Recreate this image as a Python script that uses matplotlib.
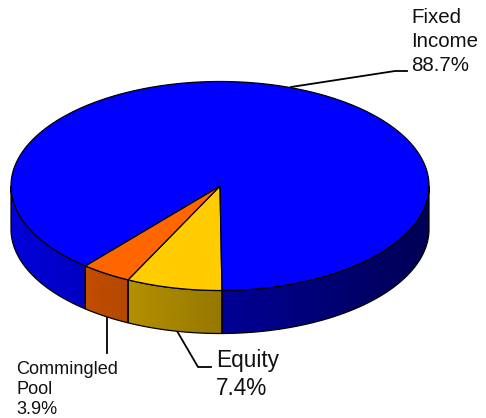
import numpy as np
import matplotlib
matplotlib.use('Agg')
import matplotlib.pyplot as plt
from matplotlib.patches import Polygon

plt.rcParams['font.family'] = ['Liberation Sans', 'DejaVu Sans']

names = ['Equity', 'Commingled\nPool', 'Fixed\nIncome']
shares = [7.4, 3.9, 88.7]
colors = [(1.0, 0.8, 0.0), (1.0, 0.4, 0.0), (0.0, 0.0, 1.0)]

# pie geometry in pixels
cx, cy = 220, 186
rx, ry = 209, 104.5
depth = 43
start = np.radians(-0.55)

fig = plt.figure(figsize=(4.86, 4.18), dpi=100)
ax = fig.add_axes([0, 0, 1, 1])


def rim(t):
    # angle runs clockwise on screen from straight down
    return cx - rx * np.sin(t), cy + ry * np.cos(t)


edges = start + np.cumsum([0] + shares) / sum(shares) * 2 * np.pi
grad = np.linspace(0.85, 0.33, 400)

# side wall, only the front half can be seen
for i in range(len(shares)):
    parts = [(edges[i], min(edges[i + 1], np.pi / 2)),
             (max(edges[i], 3 * np.pi / 2), edges[i + 1])]
    for lo, hi in parts:
        if hi <= lo:
            continue
        xs, ys = rim(np.linspace(lo, hi, 300))
        wall = Polygon(np.column_stack([np.r_[xs, xs[::-1]], np.r_[ys, ys[::-1] + depth]]),
                       closed=True, facecolor='none', edgecolor='none')
        ax.add_patch(wall)
        img = np.outer(grad, colors[i]).reshape(1, -1, 3)
        im = ax.imshow(img, extent=(cx - rx, cx + rx, 418, 0), aspect='auto',
                       interpolation='bilinear', zorder=1)
        im.set_clip_path(wall)
        ax.add_patch(Polygon(wall.get_xy(), closed=True, facecolor='none',
                             edgecolor='black', lw=0.9, zorder=2))

# top face
for i in range(len(shares)):
    xs, ys = rim(np.linspace(edges[i], edges[i + 1], 300))
    pts = np.column_stack([np.r_[cx, xs], np.r_[cy, ys]])
    ax.add_patch(Polygon(pts, closed=True, facecolor=colors[i], edgecolor='black', lw=0.9, zorder=3))

# leader lines
ax.plot([291, 395, 407], [87, 71, 71], color='black', lw=1.3, zorder=4)
ax.plot([107, 107], [318, 353], color='black', lw=1.3, zorder=0)
ax.plot([177, 198, 211], [331, 367, 367], color='black', lw=1.3, zorder=0)

ax.text(411, 71, f'{names[2]}\n{shares[2]}%', fontsize=14.8, linespacing=1.32,
        ha='left', va='baseline', color='#111111')
ax.text(216, 395, f'{names[0]}\n{shares[0]}%', fontsize=16.3, linespacing=1.26,
        ha='left', va='baseline', color='#111111')
ax.text(16, 414, f'{names[1]}\n{shares[1]}%', fontsize=13.1, linespacing=1.23,
        ha='left', va='baseline', color='#111111')

ax.set_xlim(0, 486)
ax.set_ylim(418, 0)
ax.axis('off')

fig.savefig('out.png', dpi=100)
